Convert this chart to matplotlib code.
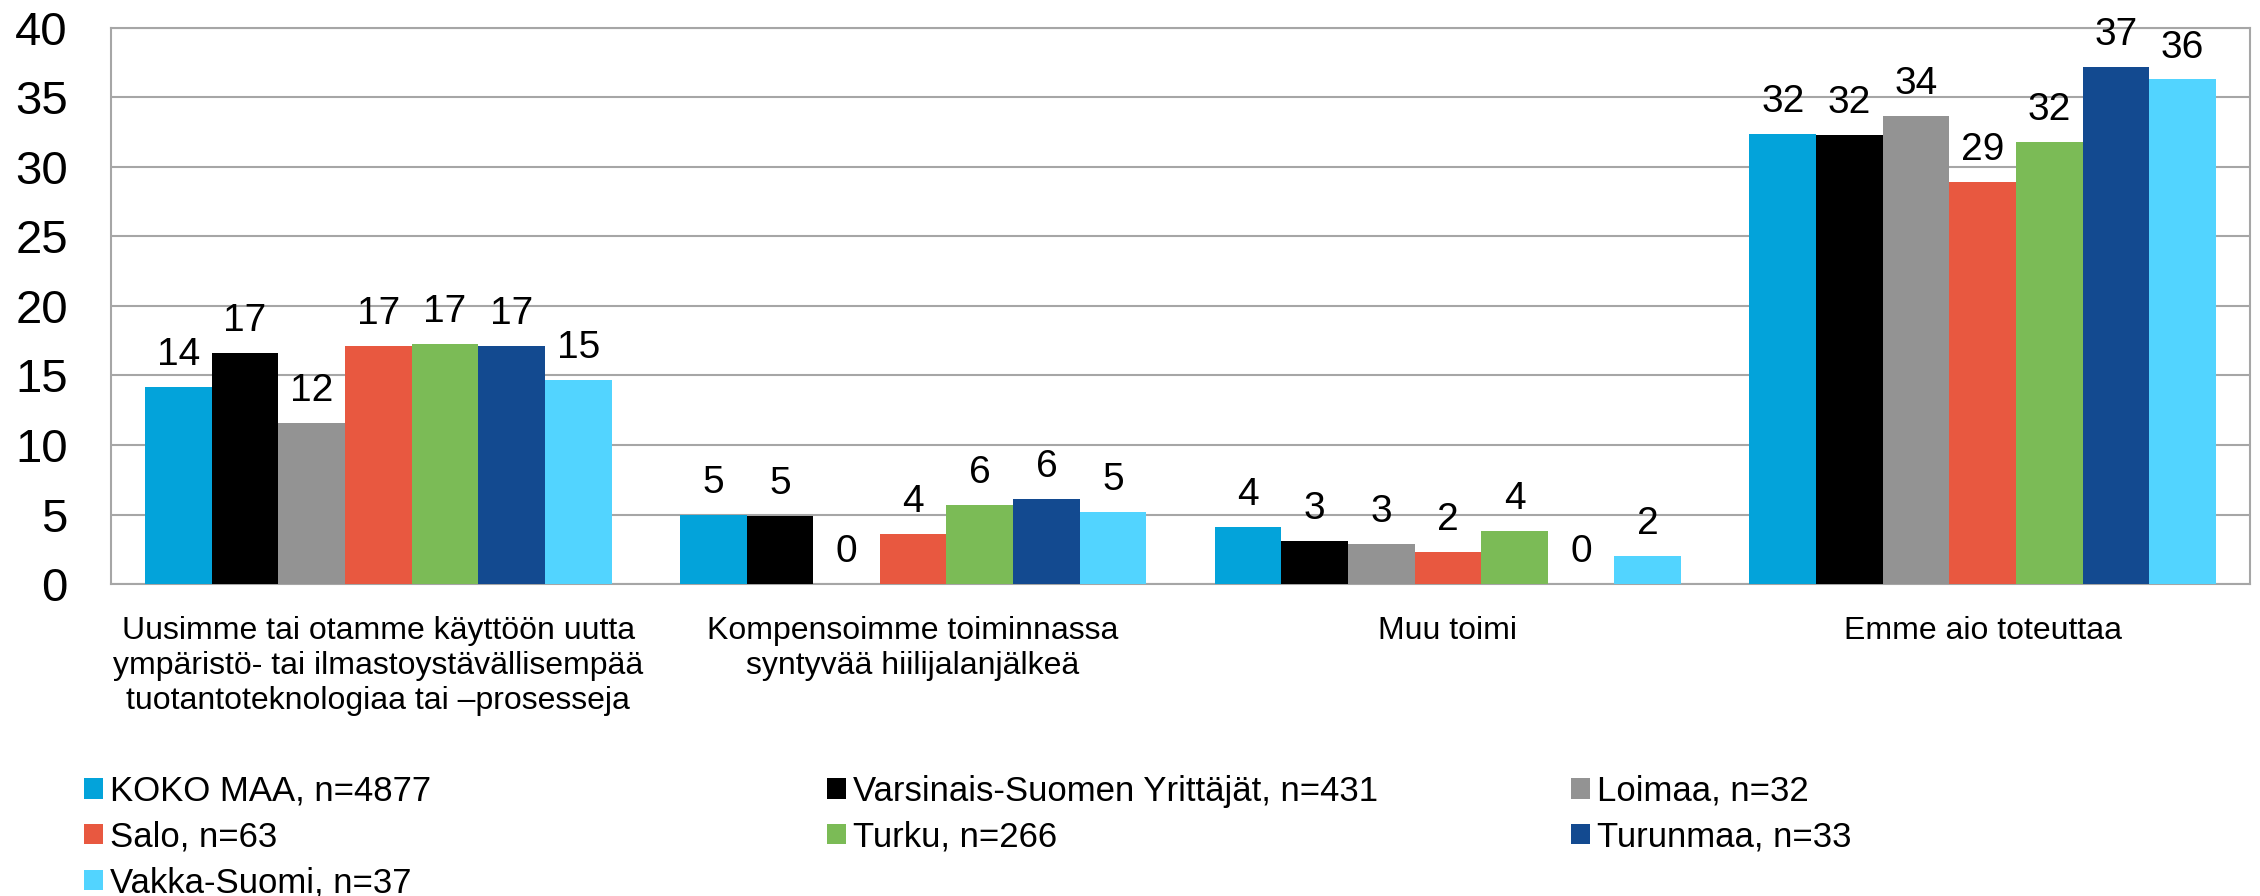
import matplotlib
matplotlib.use('Agg')
import matplotlib.pyplot as plt
import numpy as np

plt.rcParams['font.family'] = ['Liberation Sans', 'DejaVu Sans']

# Data
categories = ['Uusimme tai otamme käyttöön uutta\nympäristö- tai ilmastoystävällisempää\ntuotantoteknologiaa tai –prosesseja',
              'Kompensoimme toiminnassa\nsyntyvää hiilijalanjälkeä',
              'Muu toimi',
              'Emme aio toteuttaa']
series = ['KOKO MAA, n=4877', 'Varsinais-Suomen Yrittäjät, n=431', 'Loimaa, n=32',
          'Salo, n=63', 'Turku, n=266', 'Turunmaa, n=33', 'Vakka-Suomi, n=37']
koko_maa = [14.2, 5.0, 4.1, 32.4]
varsinais = [16.6, 4.9, 3.1, 32.3]
loimaa = [11.6, 0.0, 2.9, 33.7]
salo = [17.1, 3.6, 2.3, 28.9]
turku = [17.3, 5.7, 3.8, 31.8]
turunmaa = [17.1, 6.1, 0.0, 37.2]
vakka = [14.7, 5.2, 2.0, 36.3]
values = [koko_maa, varsinais, loimaa, salo, turku, turunmaa, vakka]
colors = ['#03A3DA', '#000000', '#939393', '#E85840', '#7BBB56', '#134A90', '#52D4FF']

fig = plt.figure(figsize=(22.6, 8.96), dpi=100)
ax = fig.add_axes([0.0491, 0.3482, 0.9465, 0.6206])

x = np.arange(len(categories))
w = 0.1246
handles = []
for i, (vals, c) in enumerate(zip(values, colors)):
    bars = ax.bar(x + (i - 3) * w, vals, w, color=c, label=series[i], zorder=3)
    ax.bar_label(bars, labels=[f'{v:.0f}' for v in vals], padding=10, fontsize=28)
    handles.append(bars)

ax.set_xlim(-0.5, 3.5)
ax.set_ylim(0, 40)
ax.set_yticks(range(0, 41, 5))
ax.yaxis.grid(True, color='#A6A6A6', linewidth=1.5, zorder=0)
ax.set_axisbelow(True)
for s in ax.spines.values():
    s.set_color('#A6A6A6')
    s.set_linewidth(1.5)
ax.tick_params(axis='y', length=0, pad=31, labelsize=34)
ax.set_xticks(x)
ax.set_xticklabels(categories, fontsize=23, linespacing=1.22)
ax.tick_params(axis='x', length=0, pad=23)

# legend, three columns filled row by row
cols = [[0, 3, 6], [1, 4], [2, 5]]
xs = [84 / 2260, 827 / 2260, 1571 / 2260]
for idx, xl in zip(cols, xs):
    fig.legend([handles[k] for k in idx], [series[k] for k in idx],
               loc='upper left', bbox_to_anchor=(xl, 0.1355), frameon=False,
               fontsize=25, borderpad=0, borderaxespad=0, handlelength=0.54,
               handleheight=0.54, handletextpad=0.22, labelspacing=0.37)

fig.savefig('out.png', dpi=100)
